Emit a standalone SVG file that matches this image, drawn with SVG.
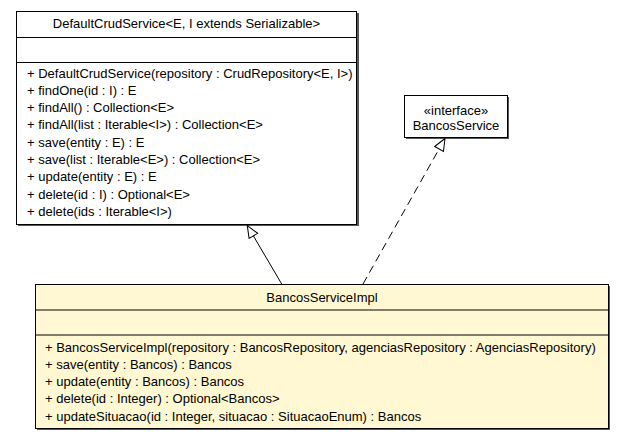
<svg xmlns="http://www.w3.org/2000/svg" width="625" height="440" viewBox="0 0 625 440">
<style>
text{font-family:"Liberation Sans",Arial,sans-serif;font-size:13px;fill:#000}
.c{text-anchor:middle}
.box{stroke:#000;stroke-width:1}
.sh{fill:#555}
.sep{stroke:#000;stroke-width:1}
.conn{stroke:#000;stroke-width:1;fill:none}
</style>
<defs>
<marker id="tri" markerWidth="14" markerHeight="12" refX="13" refY="6" orient="auto" markerUnits="userSpaceOnUse">
<path d="M1,1 L13,6 L1,11 Z" fill="#fff" stroke="#000" stroke-width="1"/>
</marker>
</defs>
<rect width="625" height="440" fill="#fff"/>
<g id="DefaultCrudService">
<rect class="sh" x="18" y="13" width="341" height="213"/>
<rect class="box" x="16.5" y="11.5" width="340" height="213" fill="#fff"/>
<line class="sep" x1="16.5" y1="37.5" x2="356.5" y2="37.5"/>
<line class="sep" x1="16.5" y1="62.5" x2="356.5" y2="62.5"/>
<text class="c" x="186.5" y="28">DefaultCrudService&lt;E, I extends Serializable&gt;</text>
<text x="27" y="77.5">+ DefaultCrudService(repository : CrudRepository&lt;E, I&gt;)</text>
<text x="27" y="94.8">+ findOne(id : I) : E</text>
<text x="27" y="112.1">+ findAll() : Collection&lt;E&gt;</text>
<text x="27" y="129.4">+ findAll(list : Iterable&lt;I&gt;) : Collection&lt;E&gt;</text>
<text x="27" y="146.7">+ save(entity : E) : E</text>
<text x="27" y="164">+ save(list : Iterable&lt;E&gt;) : Collection&lt;E&gt;</text>
<text x="27" y="181.3">+ update(entity : E) : E</text>
<text x="27" y="198.6">+ delete(id : I) : Optional&lt;E&gt;</text>
<text x="27" y="215.9">+ delete(ids : Iterable&lt;I&gt;)</text>
</g>
<g id="BancosService">
<rect class="sh" x="406" y="97" width="103" height="42"/>
<rect class="box" x="404.5" y="95.5" width="103" height="42" fill="#fff"/>
<text class="c" x="456" y="115">«interface»</text>
<text class="c" x="456" y="130">BancosService</text>
</g>
<g id="BancosServiceImpl">
<rect class="sh" x="37" y="286" width="573" height="144"/>
<rect class="box" x="35.5" y="284.5" width="573" height="144" fill="#FFF8D2"/>
<line class="sep" x1="35.5" y1="310" x2="608.5" y2="310"/>
<line class="sep" x1="35.5" y1="335" x2="608.5" y2="335"/>
<text class="c" x="322" y="302">BancosServiceImpl</text>
<text x="45" y="351.5">+ BancosServiceImpl(repository : BancosRepository, agenciasRepository : AgenciasRepository)</text>
<text x="45" y="368.8">+ save(entity : Bancos) : Bancos</text>
<text x="45" y="386.1">+ update(entity : Bancos) : Bancos</text>
<text x="45" y="403.4">+ delete(id : Integer) : Optional&lt;Bancos&gt;</text>
<text x="45" y="420.7">+ updateSituacao(id : Integer, situacao : SituacaoEnum) : Bancos</text>
</g>
<g id="connectors">
<line class="conn" x1="281.7" y1="284" x2="247.3" y2="225.5" marker-end="url(#tri)"/>
<line class="conn" x1="363" y1="284" x2="445" y2="138.5" stroke-dasharray="8,5" marker-end="url(#tri)"/>
</g>
</svg>
